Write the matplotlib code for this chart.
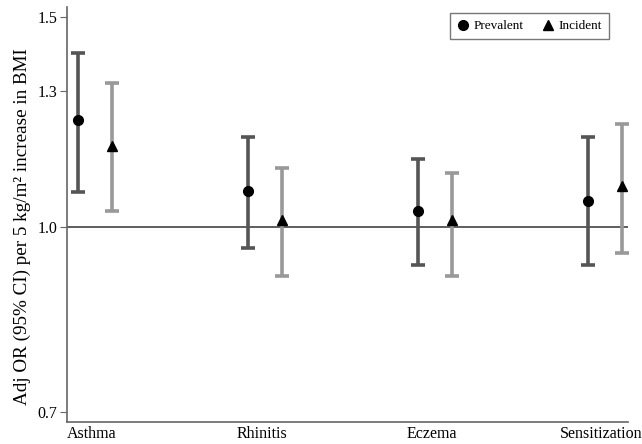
import numpy as np
import matplotlib.pyplot as plt
from matplotlib.ticker import FixedLocator, NullLocator

categories = ["Asthma", "Rhinitis", "Eczema", "Sensitization"]

prev_or = [1.229, 1.072, 1.032, 1.051]
prev_lo = [1.071, 0.960, 0.930, 0.930]
prev_hi = [1.400, 1.190, 1.140, 1.190]

inc_or = [1.170, 1.014, 1.014, 1.083]
inc_lo = [1.031, 0.910, 0.910, 0.951]
inc_hi = [1.320, 1.121, 1.111, 1.220]

yticks = [0.7, 1.0, 1.3, 1.5]

plt.rcParams['font.family'] = ['Liberation Serif', 'DejaVu Serif']

fig = plt.figure(figsize=(6.42, 4.44), dpi=100)
ax = fig.add_axes([0.1044, 0.0495, 0.8738, 0.9345])

x = np.arange(len(categories))
xp = x - 0.1
xi = x + 0.1

prev_or = np.array(prev_or)
inc_or = np.array(inc_or)
perr = [prev_or - np.array(prev_lo), np.array(prev_hi) - prev_or]
ierr = [inc_or - np.array(inc_lo), np.array(inc_hi) - inc_or]

ax.axhline(1.0, color="#333333", linewidth=1.1, zorder=1)

ax.errorbar(xp, prev_or, yerr=perr, fmt="none", ecolor="#555555",
            elinewidth=2.6, capsize=5, capthick=2.6, zorder=2)
ax.errorbar(xi, inc_or, yerr=ierr, fmt="none", ecolor="#999999",
            elinewidth=2.6, capsize=5, capthick=2.6, zorder=2)
ax.plot(xp, prev_or, "o", color="black", markersize=7, zorder=3, label="Prevalent")
ax.plot(xi, inc_or, "^", color="black", markersize=7.5, zorder=3, label="Incident")

ax.set_yscale("log")
ax.set_ylim(0.686, 1.53)
ax.set_xlim(-0.165, 3.135)
ax.yaxis.set_major_locator(FixedLocator(yticks))
ax.yaxis.set_minor_locator(NullLocator())
ax.set_yticklabels(["%.1f" % v for v in yticks])
ax.set_xticks(x - 0.02)
ax.set_xticklabels(categories)

ax.spines["top"].set_visible(False)
ax.spines["right"].set_visible(False)
for s in ["left", "bottom"]:
    ax.spines[s].set_color("#666666")
    ax.spines[s].set_linewidth(1.2)
ax.tick_params(axis="y", length=5, color="#666666", labelsize=11.5, pad=2)
ax.tick_params(axis="x", length=0, labelsize=11.5, pad=3)

ax.set_ylabel("Adj OR (95% CI) per 5 kg/m² increase in BMI", fontsize=13.8)
ax.yaxis.set_label_coords(-0.064, 0.47)

leg = ax.legend(loc="upper right", bbox_to_anchor=(0.966, 0.985), ncol=2, fontsize=9.5,
                frameon=True, fancybox=False, edgecolor="#555555", borderaxespad=0,
                handletextpad=0.3, columnspacing=1.4, borderpad=0.5, handlelength=1.0)
leg.get_frame().set_linewidth(1.0)

fig.savefig("out.png", dpi=100)
